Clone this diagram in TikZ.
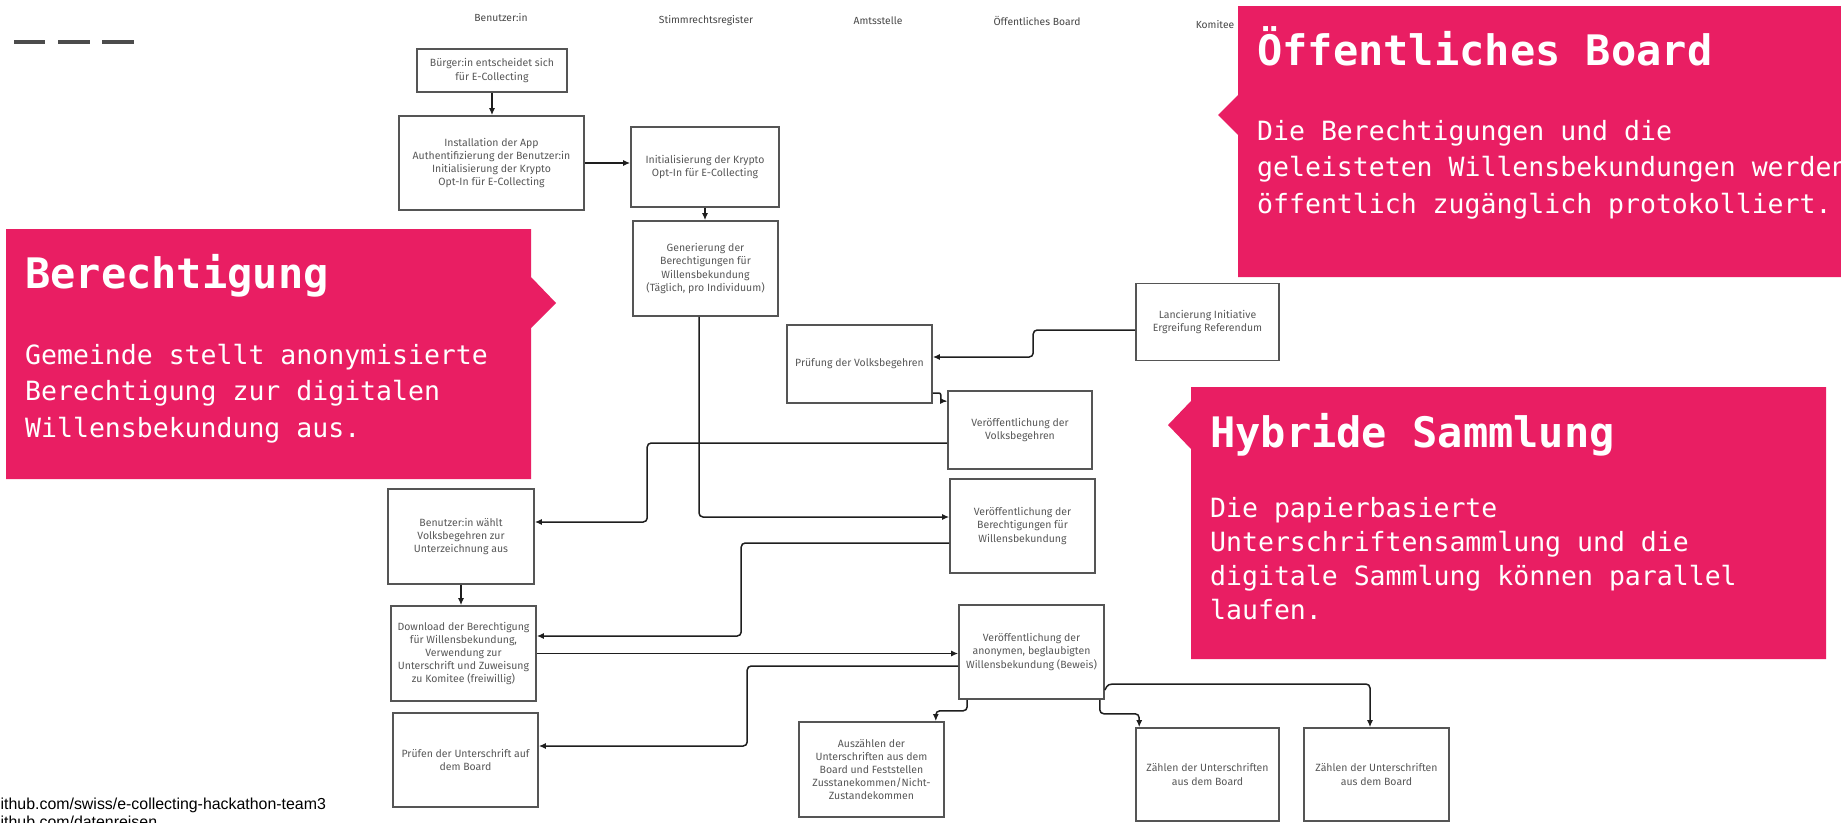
\documentclass[tikz,border=0pt]{standalone}
\usepackage{fontspec}
\setmainfont{Fira Sans}
\newfontfamily\calloutfont{DejaVu Sans Mono}
\newfontfamily\linkfont{Liberation Sans}
\usetikzlibrary{arrows.meta,calc}

\definecolor{pinkbox}{RGB}{233,30,99}
\definecolor{boxline}{RGB}{85,85,85}
\definecolor{boxtext}{RGB}{88,88,88}
\definecolor{wirecol}{RGB}{30,30,30}

\tikzset{
  flowbox/.style={draw=boxline, line width=1.6pt, fill=white, align=center, text=boxtext,
    font=\fontsize{10.5}{13.2}\selectfont, inner sep=2pt},
  lanehead/.style={text=black!72, font=\fontsize{10.3}{12}\selectfont, inner sep=0pt},
  wire/.style={draw=wirecol, line width=1.5pt, rounded corners=4pt, -{Latex[length=7pt,width=6pt]}},
  callout/.style={fill=pinkbox, draw=none},
  callhead/.style={text=white, font=\calloutfont\bfseries\fontsize{42}{46}\selectfont,
    anchor=base west, inner sep=0pt},
  callbody/.style={text=white, font=\calloutfont\fontsize{26.5}{36.5}\selectfont,
    align=left, anchor=base west, inner sep=0pt},
}

\begin{document}
\begin{tikzpicture}[x=1pt,y=1pt,yscale=-1]
\useasboundingbox (0,0) rectangle (1841,822);
\fill[white] (0,0) rectangle (1841,822);

%Shape: Dashes
\fill[black!70] (14,40) rectangle (45,44);
\fill[black!70] (58,40) rectangle (90,44);
\fill[black!70] (102,40) rectangle (134,44);

% Text Node
\node[lanehead] (hbenutzer) at (501,18) {Benutzer:in};
% Text Node
\node[lanehead] (hregister) at (706,21) {Stimmrechtsregister};
% Text Node
\node[lanehead] (hamt) at (878,21) {Amtsstelle};
% Text Node
\node[lanehead] (hboard) at (1037,21) {Öffentliches Board};
% Text Node
\node[lanehead] (hkomitee) at (1215,25) {Komitee};

%Shape: Rectangle
\node[flowbox, minimum width=150, minimum height=43] (buerger) at (492,70.5) {Bürger:in entscheidet sich\\für E-Collecting};
%Shape: Rectangle
\node[flowbox, minimum width=185, minimum height=94] (install) at (491.5,163) {Installation der App\\Authentifizierung der Benutzer:in\\Initialisierung der Krypto\\Opt-In für E-Collecting};
%Shape: Rectangle
\node[flowbox, minimum width=148, minimum height=80] (krypto) at (705,167) {Initialisierung der Krypto\\Opt-In für E-Collecting};
%Shape: Rectangle
\node[flowbox, minimum width=145, minimum height=95] (generierung) at (705.5,268.5) {Generierung der\\Berechtigungen für\\Willensbekundung\\(Täglich, pro Individuum)};
%Shape: Rectangle
\node[flowbox, minimum width=143, minimum height=77] (lancierung) at (1207.5,322) {Lancierung Initiative\\Ergreifung Referendum};
%Shape: Rectangle
\node[flowbox, minimum width=145, minimum height=78] (pruefung) at (859.5,364) {Prüfung der Volksbegehren};
%Shape: Rectangle
\node[flowbox, minimum width=144, minimum height=78] (publvb) at (1020,430) {Veröffentlichung der\\Volksbegehren};
%Shape: Rectangle
\node[flowbox, minimum width=145, minimum height=94] (publber) at (1022.5,526) {Veröffentlichung der\\Berechtigungen für\\Willensbekundung};
%Shape: Rectangle
\node[flowbox, minimum width=146, minimum height=95] (waehlt) at (461,536.5) {Benutzer:in wählt\\Volksbegehren zur\\Unterzeichnung aus};
%Shape: Rectangle
\node[flowbox, minimum width=145, minimum height=95] (download) at (463.5,653.5) {Download der Berechtigung\\für Willensbekundung,\\Verwendung zur\\Unterschrift und Zuweisung\\zu Komitee (freiwillig)};
%Shape: Rectangle
\node[flowbox, minimum width=145, minimum height=94] (beweis) at (1031.5,652) {Veröffentlichung der\\anonymen, beglaubigten\\Willensbekundung (Beweis)};
%Shape: Rectangle
\node[flowbox, minimum width=145, minimum height=94] (pruefen) at (465.5,760) {Prüfen der Unterschrift auf\\dem Board};
%Shape: Rectangle
\node[flowbox, minimum width=145, minimum height=95] (auszaehlen) at (871.5,769.5) {Auszählen der\\Unterschriften aus dem\\Board und Feststellen\\Zusstanekommen/Nicht-\\Zustandekommen};
%Shape: Rectangle
\node[flowbox, minimum width=143, minimum height=93] (zaehlena) at (1207.5,774.5) {Zählen der Unterschriften\\aus dem Board};
%Shape: Rectangle
\node[flowbox, minimum width=145, minimum height=93] (zaehlenb) at (1376.5,774.5) {Zählen der Unterschriften\\aus dem Board};

%Straight Lines
\draw[wire] (buerger.south) -- (buerger.south |- install.north);
\draw[wire] (install.east) -- (install.east -| krypto.west);
\draw[wire] (krypto.south) -- (krypto.south |- generierung.north);
\draw[wire] ($(lancierung.west)+(0,8)$) -- ++(-102,0) |- ($(pruefung.east)+(0,-7)$);
\draw[wire, rounded corners=2pt] ($(pruefung.east)+(0,29)$) -- ++(8,0) |- ($(publvb.west)+(0,-29)$);
\draw[wire] ($(publvb.west)+(0,13)$) -- ++(-300,0) |- ($(waehlt.east)+(0,-14.5)$);
\draw[wire] ($(generierung.south)+(-6.5,0)$) |- ($(publber.west)+(0,-9)$);
\draw[wire] ($(publber.west)+(0,17)$) -- ++(-208,0) |- ($(download.east)+(0,-17.5)$);
\draw[wire] (waehlt.south) -- (waehlt.south |- download.north);
\draw[wire] (download.east) -- (download.east -| beweis.west);
\draw[wire] ($(beweis.west)+(0,14)$) -- ++(-211,0) |- ($(pruefen.east)+(0,-14)$);
\draw[wire] ($(beweis.south west)+(9,0)$) -- ++(0,11) -| ($(auszaehlen.north east)+(-9,0)$);
\draw[wire] ($(beweis.south east)+(-5,0)$) -- ++(0,14) -| ($(zaehlena.north west)+(4,0)$);
%Curve Lines
\draw[wire] ($(beweis.east)+(0,38)$) .. controls (1108,684) .. (1122,684) -| ($(zaehlenb.north)+(-6.5,0)$);

%Shape: Callout Berechtigung
\fill[callout] (6,229) -- (531,229) -- (531,277) -- (556,303) -- (531,328) -- (531,479) -- (6,479) -- cycle;
% Text Node
\node[callhead] (berhead) at (25,288) {Berechtigung};
% Text Node
\node[callbody] (berbody) at (25,437) {Gemeinde stellt anonymisierte\\Berechtigung zur digitalen\\Willensbekundung aus.};

%Shape: Callout Board
\fill[callout] (1238,6) -- (1845,6) -- (1845,277) -- (1238,277) -- (1238,135) -- (1218,115) -- (1238,95) -- cycle;
% Text Node
\node[callhead] (boardhead) at (1257,65) {Öffentliches Board};
% Text Node
\node[callbody] (boardbody) at (1257,213) {Die Berechtigungen und die\\geleisteten Willensbekundungen werden\\öffentlich zugänglich protokolliert.};

%Shape: Callout Hybrid
\fill[callout] (1191,387) -- (1826,387) -- (1826,659) -- (1191,659) -- (1191,449) -- (1168,425) -- (1191,401) -- cycle;
% Text Node
\node[callhead] (hybhead) at (1210,447) {Hybride Sammlung};
% Text Node
\node[callbody, font=\calloutfont\fontsize{26.5}{34}\selectfont] (hybbody) at (1210,619) {Die papierbasierte\\Unterschriftensammlung und die\\digitale Sammlung können parallel\\laufen.};

% Text Node
\node[anchor=base west, inner sep=0pt, font=\linkfont\fontsize{15.9}{18}\selectfont, align=left] (links) at (0.5,827) {ithub.com/swiss/e-collecting-hackathon-team3\\ithub.com/datenreisen};

\end{tikzpicture}
\end{document}
